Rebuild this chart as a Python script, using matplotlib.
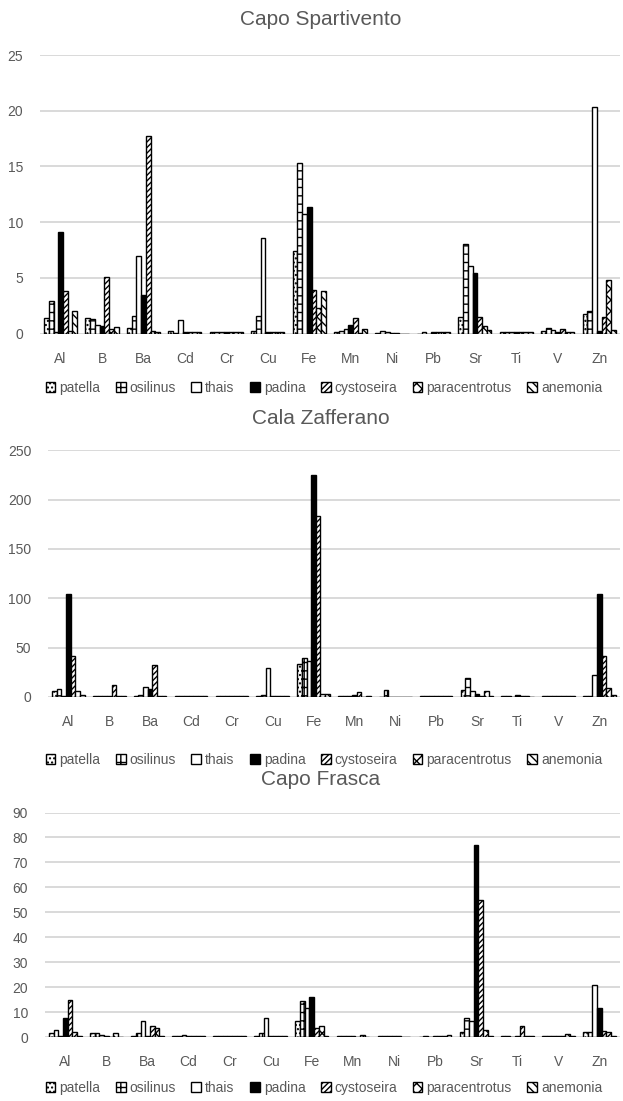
import numpy as np
import matplotlib
matplotlib.use("Agg")
import matplotlib.pyplot as plt

# === Data ===
elements = ["Al", "B", "Ba", "Cd", "Cr", "Cu", "Fe", "Mn", "Ni", "Pb", "Sr", "Ti", "V", "Zn"]
species = ["patella", "osilinus", "thais", "padina", "cystoseira", "paracentrotus", "anemonia"]

# rows follow species order, columns follow elements order
spartivento = [
    [1.4, 1.4, 0.5, 0.2, 0.1, 0.2, 7.4, 0.1, 0.05, 0.0, 1.5, 0.1, 0.2, 1.8],
    [2.9, 1.3, 1.6, 0.05, 0.1, 1.6, 15.3, 0.2, 0.2, 0.1, 8.0, 0.1, 0.5, 2.0],
    [0.1, 0.8, 7.0, 1.2, 0.1, 8.6, 10.7, 0.4, 0.1, 0.0, 6.1, 0.1, 0.3, 20.3],
    [9.1, 0.7, 3.5, 0.1, 0.1, 0.1, 11.4, 0.8, 0.05, 0.1, 5.4, 0.1, 0.1, 0.2],
    [3.8, 5.1, 17.7, 0.1, 0.1, 0.1, 3.9, 1.4, 0.05, 0.1, 1.5, 0.1, 0.4, 1.5],
    [0.2, 0.4, 0.2, 0.1, 0.1, 0.1, 2.3, 0.05, 0.0, 0.1, 0.7, 0.1, 0.1, 4.8],
    [2.0, 0.6, 0.1, 0.1, 0.1, 0.1, 3.8, 0.4, 0.0, 0.1, 0.3, 0.1, 0.1, 0.3],
]
zafferano = [
    [6, 0.5, 0.5, 0.5, 0.5, 0.5, 33, 0.5, 0, 0.5, 7, 0.5, 0.5, 1],
    [8, 0.5, 2, 0.5, 0.5, 2, 39, 0.5, 7, 0.5, 19, 0.5, 0.5, 0.5],
    [0.5, 0.5, 10, 0.5, 0.5, 29, 36, 1, 0, 0.5, 6, 0, 0.5, 22],
    [104, 0.5, 8, 0.5, 0.5, 0.5, 225, 2, 0, 0.5, 3, 1.5, 0.5, 104],
    [41, 12, 32, 0.5, 0.5, 0.5, 183, 5, 0, 0.5, 1, 0.5, 0.5, 41],
    [6, 0.5, 1, 0.5, 0.5, 0.5, 3, 0, 0, 0.5, 6, 0.5, 0.5, 9],
    [2, 0.5, 0.5, 0.5, 0.5, 0.5, 3, 0.5, 0, 0.5, 1, 0, 0.5, 2],
]
frasca = [
    [1.5, 1.5, 0.3, 0.3, 0.3, 0.3, 6.5, 0.3, 0.3, 0, 2, 0.3, 0.3, 2],
    [3, 1.5, 1.5, 0.3, 0.3, 1.5, 14.5, 0.3, 0.3, 0.3, 7.5, 0.3, 0.3, 2],
    [0.3, 1, 6.5, 1, 0.3, 7.5, 11.5, 0.3, 0.3, 0, 6.5, 0, 0.3, 21],
    [7.5, 0.3, 0.5, 0.3, 0.3, 0.3, 16, 0.3, 0.3, 0.3, 77, 0.5, 0.3, 11.5],
    [15, 0, 4.5, 0.3, 0.3, 0.3, 3.5, 0, 0.3, 0.3, 55, 4.5, 0.3, 2.5],
    [2, 1.5, 3.5, 0.3, 0.3, 0.3, 4.5, 1, 0, 0.3, 3, 0.5, 1.3, 2],
    [0.5, 0.2, 0.5, 0.3, 0.3, 0.3, 0.5, 0, 0, 1, 0.5, 0.3, 0.3, 0.5],
]

sites = ["Capo Spartivento", "Cala Zafferano", "Capo Frasca"]
site_data = [spartivento, zafferano, frasca]
y_limits = [25, 250, 90]
y_steps = [5, 50, 10]

# === Styles ===
GRAY = "#595959"
GRID = "#d9d9d9"
styles = [
    dict(facecolor="white", hatch="...."),
    dict(facecolor="white", hatch="++"),
    dict(facecolor="white", hatch=""),
    dict(facecolor="black", hatch=""),
    dict(facecolor="white", hatch="//////"),
    dict(facecolor="white", hatch="xxx"),
    dict(facecolor="white", hatch="\\\\\\\\"),
]

plt.rcParams["font.family"] = ["Liberation Sans", "DejaVu Sans"]
plt.rcParams["hatch.linewidth"] = 1.0

fig = plt.figure(figsize=(6.23, 11.01), dpi=100)

# [left, bottom, width, height] for each panel, plus title / legend y
axes_rects = [
    [0.064, 0.697, 0.931, 0.253],
    [0.077, 0.367, 0.918, 0.224],
    [0.072, 0.058, 0.923, 0.204],
]
title_y = [0.982, 0.620, 0.2916]
legend_y = [0.6476, 0.3097, 0.0118]

x = np.arange(len(elements))
bar_w = 0.114

for k, site in enumerate(sites):
    ax = fig.add_axes(axes_rects[k])
    data = site_data[k]
    for i, sp in enumerate(species):
        offset = (i - 3) * bar_w
        ax.bar(x + offset, data[i], width=bar_w, edgecolor="black",
               linewidth=1.0, label=sp, zorder=3, **styles[i])

    ax.set_xlim(-0.5, len(elements) - 0.5)
    ax.set_ylim(0, y_limits[k])
    ax.set_yticks(np.arange(0, y_limits[k] + 1, y_steps[k]))
    ax.set_xticks(x)
    ax.set_xticklabels(elements)
    ax.tick_params(length=0, colors=GRAY, labelsize=10, pad=13)
    ax.tick_params(axis="y", pad=12)
    ax.yaxis.grid(True, color=GRID, linewidth=1.4, zorder=0)
    ax.set_axisbelow(True)
    # grid line at zero acts as the baseline, so no spines
    for side in ["top", "right", "left", "bottom"]:
        ax.spines[side].set_visible(False)

    fig.text(0.515, title_y[k], site, ha="center", va="center",
             fontsize=15, color=GRAY)

    fig.legend(*ax.get_legend_handles_labels(), loc="center",
               bbox_to_anchor=(0.52, legend_y[k]), ncol=7, frameon=False,
               fontsize=10, labelcolor=GRAY, handlelength=0.7,
               handleheight=0.7, handletextpad=0.3, columnspacing=1.1)

plt.savefig("out.png", dpi=100)
plt.close()
